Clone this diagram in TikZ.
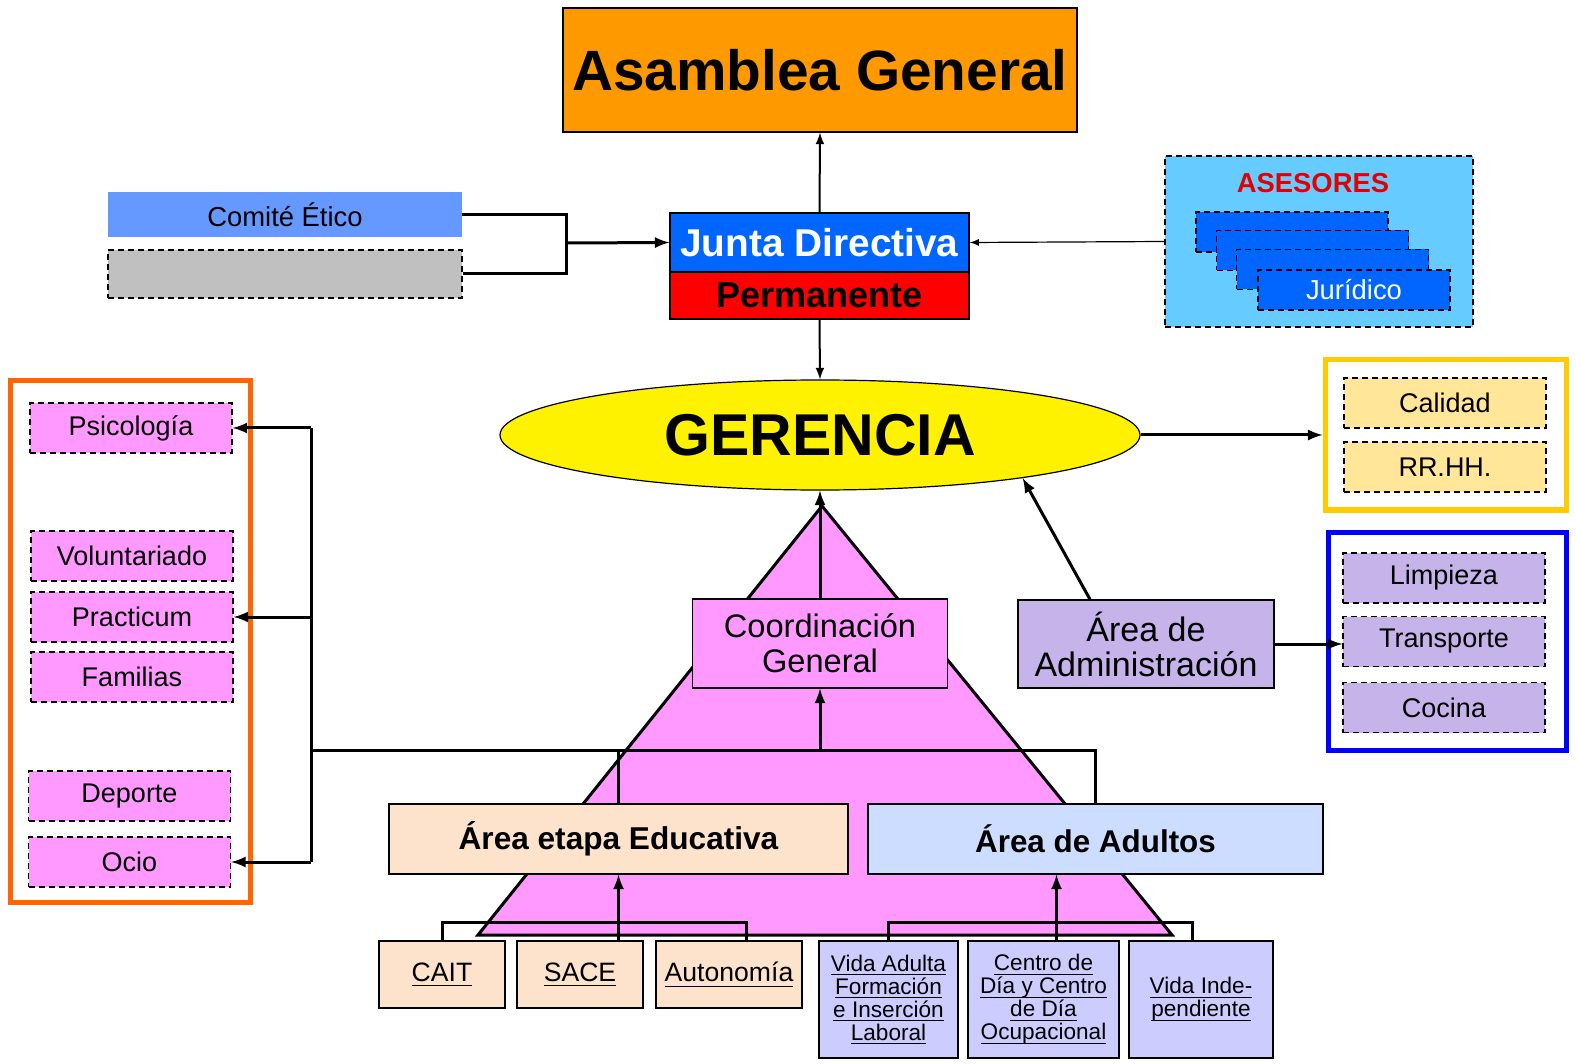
\documentclass[tikz,border=0pt]{standalone}
\usepackage{fontspec}
\setmainfont{Liberation Sans}
\usepackage{tikz}
\usetikzlibrary{arrows,shapes}
\newcommand{\ulin}[1]{\setbox0\hbox{#1}\rlap{\vrule height -0.14em depth 0.185em width \wd0}\box0}

\begin{document}
\begin{tikzpicture}[>=latex,x=0.5pt,y=-0.5pt,
  box/.style={rectangle,draw,line width=0.6pt,inner sep=0pt,align=center},
  dbox/.style={box,dash pattern=on 3pt off 2pt},
  item/.style={dbox,minimum width=101pt,minimum height=25pt,
               font=\fontsize{13.5}{15}\selectfont},
  frame/.style={rectangle,line width=2.5pt,inner sep=0pt},
  conn/.style={line width=1.5pt},
  small/.style={box,fill=lila,minimum height=58.5pt,
                font=\fontsize{11.3}{11.5}\selectfont},
  tiny/.style={box,fill=melocoton,minimum height=33.5pt,
               font=\fontsize{13.3}{15}\selectfont}]
\definecolor{naranja}{HTML}{FF9900}
\definecolor{azuljunta}{HTML}{0066FF}
\definecolor{rojo}{HTML}{FF0000}
\definecolor{comite}{HTML}{6699FF}
\definecolor{gris}{HTML}{C0C0C0}
\definecolor{celeste}{HTML}{66CCFF}
\definecolor{oro}{HTML}{FFCC00}
\definecolor{crema}{HTML}{FFE699}
\definecolor{violeta}{HTML}{C5B3EA}
\definecolor{rosa}{HTML}{FF99FF}
\definecolor{naranjaosc}{HTML}{FF6600}
\definecolor{melocoton}{HTML}{FDE2CC}
\definecolor{azulclaro}{HTML}{CCDDFF}
\definecolor{lila}{HTML}{CCCCFF}
\useasboundingbox (0,0) rectangle (1576,1064);

% piramide de fondo
\coordinate (apex) at (822,506);
\coordinate (pbl) at (478,935);
\coordinate (pbr) at (1172,935);
\draw[conn,fill=rosa] (apex) -- (pbl) -- (pbr) -- cycle;

\node [box,
       fill=naranja,
       minimum width=257pt,
       minimum height=62pt,
       font=\fontsize{28.4}{30}\selectfont\bfseries] (asamblea) at (820,70) {Asamblea General};
\node [box,
       fill=azuljunta,
       text=white,
       minimum width=149.5pt,
       minimum height=29.5pt,
       font=\fontsize{19.4}{21}\selectfont\bfseries] (junta) at (819.5,242.5) {Junta Directiva};
\node [box,
       fill=rojo,
       minimum width=149.5pt,
       minimum height=23.5pt,
       font=\fontsize{18}{20}\selectfont\bfseries] (perm) at (819.5,295.5) {Permanente};

\node [rectangle,
       fill=comite,
       minimum width=177pt,
       minimum height=22.5pt,
       inner sep=0pt,
       font=\fontsize{13.7}{15}\selectfont] (comite) at (285,214.5) {Comit\'e \'Etico};
\node [dbox,fill=gris,minimum width=177pt,minimum height=24pt] (gris) at (285,274) {};

\node [dbox,fill=celeste,minimum width=154pt,minimum height=85.5pt] (asesores) at (1319,241.5) {};
\node [text=rojo!90!black,font=\fontsize{13.7}{15}\selectfont\bfseries] (asetit) at (1313,183) {ASESORES};
\node [dbox,fill=azuljunta,minimum width=96pt,minimum height=20pt] (ase1) at (1292,232) {};
\node [dbox,fill=azuljunta,minimum width=96pt,minimum height=20pt] (ase2) at (1312.5,250.5) {};
\node [dbox,fill=azuljunta,minimum width=96pt,minimum height=20pt] (ase3) at (1332.5,269.5) {};
\node [dbox,fill=azuljunta,minimum width=96pt,minimum height=20pt,text=white,
       font=\fontsize{13.7}{15}\selectfont] (ase4) at (1354,290) {Jur\'idico};

\node [ellipse,
       draw,
       line width=0.6pt,
       fill=yellow,
       inner sep=0pt,
       minimum width=320pt,
       minimum height=55pt,
       font=\fontsize{29.5}{31}\selectfont\bfseries] (gerencia) at (820,435) {GERENCIA};

% cajas de la derecha
\node [frame,draw=oro,minimum width=120.5pt,minimum height=75pt] (calbox) at (1445.5,435) {};
\node [item,fill=crema] (calidad) at (1445,403) {Calidad};
\node [item,fill=crema] (rrhh) at (1445,467) {RR.HH.};
\node [frame,draw=blue,minimum width=119pt,minimum height=109pt] (admbox) at (1447,641) {};
\node [item,fill=violeta] (limpieza) at (1444,578) {Limpieza};
\node [item,fill=violeta] (transp) at (1444,641.5) {Transporte};
\node [item,fill=violeta] (cocina) at (1444,707.5) {Cocina};
\node [box,
       fill=violeta,
       minimum width=128pt,
       minimum height=44pt,
       font=\fontsize{17}{17.5}\selectfont] (admin) at (1146,644) {\'Area de\\Administraci\'on};

% cajas de la izquierda
\node [frame,draw=naranjaosc,minimum width=120pt,minimum height=260.5pt] (izqbox) at (130,641.5) {};
\node [item,fill=rosa] (psico) at (131,428) {Psicolog\'ia};
\node [item,fill=rosa] (volun) at (132,556) {Voluntariado};
\node [item,fill=rosa] (pract) at (132,617) {Practicum};
\node [item,fill=rosa] (famil) at (132,677) {Familias};
\node [item,fill=rosa] (deporte) at (129.5,796) {Deporte};
\node [item,fill=rosa] (ocio) at (129.5,862) {Ocio};

% piramide
\node [box,
       fill=rosa,
       minimum width=127.5pt,
       minimum height=44.5pt,
       font=\fontsize{16.3}{17.5}\selectfont] (coord) at (820,643.5) {Coordinaci\'on\\General};
\node [box,
       fill=melocoton,
       minimum width=229.5pt,
       minimum height=35pt,
       font=\fontsize{15.8}{17}\selectfont\bfseries] (educ) at (618.5,839) {\'Area etapa Educativa};
\node [box,
       fill=azulclaro,
       minimum width=227.5pt,
       minimum height=35pt,
       font=\fontsize{15.7}{17}\selectfont\bfseries] (adultos) at (1095.5,839) {\'Area de Adultos};

\node [tiny,minimum width=63pt] (cait) at (442,974.5) {\ulin{CAIT}};
\node [tiny,minimum width=63pt] (sace) at (580,974.5) {\ulin{SACE}};
\node [tiny,minimum width=73pt] (auto) at (729,974.5) {\ulin{Autonom\'ia}};
\node [small,minimum width=69.5pt] (vadulta) at (888.5,999.5)
      {\ulin{Vida Adulta}\\\ulin{Formaci\'on}\\\ulin{e Inserci\'on}\\\ulin{Laboral}};
\node [small,minimum width=75.5pt] (centro) at (1043.5,999.5)
      {\ulin{Centro de}\\\ulin{D\'ia y Centro}\\\ulin{de D\'ia}\\\ulin{Ocupacional}};
\node [small,minimum width=72pt] (vind) at (1201,999.5)
      {\ulin{Vida Inde-}\\\ulin{pendiente}};

% conectores de arriba
\draw[->,line width=1pt] (junta.north) -- (asamblea.south);
\draw[->,line width=1pt] (perm.south) -- (gerencia.north);
\draw[->,line width=0.6pt] (asesores.west) -- (junta.east);
\coordinate (cj) at (566,243);
\draw[conn] (comite.east) -| (cj) |- (gris.east);
\draw[->,conn] (cj) -- (junta.west);
\draw[->,conn] (gerencia.east) -- (calbox.west);
\draw[->,conn] (admin.east) -- (admin.east -| transp.west);
\draw[->,conn] ([xshift=-28pt]admin.north) -- (gerencia.-12);
\draw[->,conn] (coord.north) -- (coord.north |- gerencia.south);

% bus central
\coordinate (bus) at (311,750);
\draw[conn] (adultos.north) |- (bus);
\draw[conn] (educ.north) -- (educ.north |- bus);
\draw[->,conn] (coord.south |- bus) -- (coord.south);
\draw[conn] (bus |- psico.east) -- (bus |- ocio.east);
\draw[->,conn] (bus |- psico.east) -- (psico.east);
\draw[->,conn] (bus |- pract.east) -- (pract.east);
\draw[->,conn] (bus |- ocio.east) -- (ocio.east);

% conectores de abajo
\draw[conn] (cait.north) -- ++(0,-18) -| ([xshift=8.5pt]auto.north);
\draw[->,conn] (educ.south |- sace.north) -- (educ.south);
\draw[conn] (vadulta.north) -- ++(0,-18) -| ([xshift=-4.5pt]vind.north);
\draw[->,conn] ([xshift=6.5pt]centro.north) -- ([xshift=6.5pt]centro.north |- adultos.south);
\end{tikzpicture}
\end{document}
